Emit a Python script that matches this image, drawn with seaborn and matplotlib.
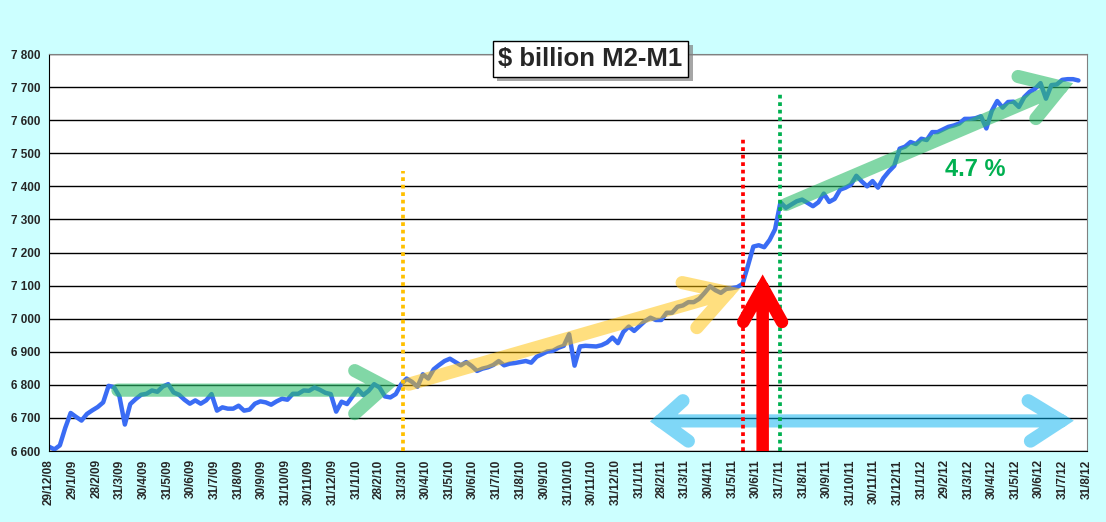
import numpy as np
import pandas as pd
import matplotlib
matplotlib.use("Agg")
import matplotlib.pyplot as plt
import matplotlib.dates as mdates
from matplotlib import patheffects as pe
import seaborn as sns

# weekly M2-M1, $ billion, first week 29/12/08
start = "2008-12-29"
m2_m1 = [6613, 6605, 6617, 6670, 6715, 6703, 6692, 6712, 6723, 6733,
         6747, 6797, 6793, 6765, 6680, 6742, 6757, 6770, 6773, 6783,
         6779, 6795, 6802, 6777, 6770, 6755, 6743, 6753, 6743, 6753,
         6772, 6722, 6732, 6728, 6728, 6737, 6722, 6725, 6743, 6750,
         6747, 6740, 6750, 6758, 6755, 6773, 6773, 6783, 6782, 6792,
         6785, 6776, 6772, 6719, 6749, 6742, 6765, 6787, 6769, 6782,
         6802, 6792, 6765, 6762, 6772, 6802, 6819, 6809, 6794, 6832,
         6819, 6847, 6860, 6872, 6879, 6869, 6859, 6869, 6857, 6842,
         6849, 6853, 6860, 6872, 6859, 6864, 6866, 6869, 6872, 6867,
         6885, 6893, 6901, 6903, 6912, 6918, 6953, 6858, 6916, 6918,
         6917, 6916, 6920, 6928, 6943, 6926, 6960, 6976, 6963, 6978,
         6993, 7003, 6996, 6996, 7018, 7018, 7036, 7040, 7050, 7050,
         7060, 7078, 7098, 7086, 7078, 7090, 7092, 7095, 7105, 7160,
         7218, 7222, 7216, 7238, 7270, 7352, 7335, 7345, 7355, 7360,
         7350, 7340, 7352, 7378, 7353, 7362, 7390, 7396, 7405, 7432,
         7415, 7400, 7416, 7396, 7425, 7445, 7462, 7514, 7520, 7534,
         7528, 7544, 7540, 7564, 7564, 7572, 7580, 7584, 7590, 7604,
         7604, 7606, 7612, 7575, 7628, 7658, 7638, 7655, 7656, 7640,
         7670, 7686, 7695, 7712, 7665, 7706, 7708, 7722, 7724, 7724,
         7720]

tick_labels = ["29/12/08", "29/1/09", "28/2/09", "31/3/09", "30/4/09", "31/5/09",
               "30/6/09", "31/7/09", "31/8/09", "30/9/09", "31/10/09", "30/11/09",
               "31/12/09", "31/1/10", "28/2/10", "31/3/10", "30/4/10", "31/5/10",
               "30/6/10", "31/7/10", "31/8/10", "30/9/10", "31/10/10", "30/11/10",
               "31/12/10", "31/1/11", "28/2/11", "31/3/11", "30/4/11", "31/5/11",
               "30/6/11", "31/7/11", "31/8/11", "30/9/11", "31/10/11", "30/11/11",
               "31/12/11", "31/1/12", "29/2/12", "31/3/12", "30/4/12", "31/5/12",
               "30/6/12", "31/7/12", "31/8/12"]
y_ticks = list(range(6600, 7801, 100))

df = pd.DataFrame({"date": pd.date_range(start, periods=len(m2_m1), freq="7D"),
                   "value": m2_m1})
tick_dates = pd.to_datetime(tick_labels, format="%d/%m/%y")

bg = "#CCFFFF"
line_blue = "#3A6CF4"
green = "#2EBD6B"
yellow = "#FFC000"
sky = "#00B0F0"

sns.set_style("white")
plt.rcParams["font.family"] = ["Liberation Sans", "DejaVu Sans"]

fig = plt.figure(figsize=(11.06, 5.22), dpi=100, facecolor=bg)
ax = fig.add_axes([0.0443, 0.136, 0.9385, 0.7605])
ax.set_facecolor("white")

sns.lineplot(data=df, x="date", y="value", ax=ax, color=line_blue, lw=3.2, zorder=2)

ax.set_xlim(tick_dates[0], tick_dates[-1])
ax.set_ylim(6600, 7800)
ax.set_xticks(tick_dates)
ax.set_xticklabels(tick_labels, rotation=90, fontsize=8.5, fontweight="bold")
ax.set_yticks(y_ticks)
ax.set_yticklabels([f"{v:,}".replace(",", " ") for v in y_ticks],
                   fontsize=8.5, fontweight="bold")
ax.tick_params(axis="both", length=4, width=1, direction="out", color="black", pad=2)
ax.set_xlabel("")
ax.set_ylabel("")
ax.yaxis.grid(True, color="black", lw=1)
ax.xaxis.grid(False)
ax.set_axisbelow(True)
for s in ["top", "right"]:
    ax.spines[s].set_color("#808080")
for s in ["left", "bottom"]:
    ax.spines[s].set_color("black")


def d(s):
    return mdates.date2num(pd.Timestamp(s))


def shape(segments, color, alpha=1.0, lw=9.5, z=3):
    # one path for shaft + head, so alpha is not doubled where they overlap
    xs, ys = [], []
    for seg in segments:
        for dt, v in seg:
            xs.append(d(dt))
            ys.append(v)
        xs.append(np.nan)
        ys.append(np.nan)
    ax.plot(xs, ys, color=color, alpha=alpha, lw=lw, solid_capstyle="round",
            solid_joinstyle="miter", zorder=z)


# flat green arrow 2009
shape([[("2009-03-28", 6784), ("2010-02-22", 6784)],
       [("2010-01-28", 6843), ("2010-03-08", 6795), ("2010-01-28", 6713)]],
      green, alpha=0.6)
# yellow arrow 2010-2011
shape([[("2010-04-08", 6802), ("2011-05-25", 7079)],
       [("2011-03-27", 7109), ("2011-05-25", 7079), ("2011-04-15", 6973)]],
      yellow, alpha=0.5)
# green arrow 2011-2012
shape([[("2011-08-08", 7345), ("2012-07-29", 7700)],
       [("2012-06-03", 7732), ("2012-07-29", 7700), ("2012-06-26", 7605)]],
      green, alpha=0.6)
# light blue double arrow
shape([[("2011-02-27", 6691), ("2012-07-29", 6691)],
       [("2011-03-28", 6752), ("2011-02-27", 6691), ("2011-04-04", 6630)],
       [("2012-06-16", 6752), ("2012-07-29", 6691), ("2012-06-19", 6630)]],
      sky, alpha=0.5)

# dotted markers
ax.plot([d("2010-03-31")] * 2, [6600, 7445], color=yellow, lw=2.7,
        ls=(0, (1, 1)), zorder=4)
ax.plot([d("2011-06-13")] * 2, [6600, 7552], color="#FF0000", lw=2.7,
        ls=(0, (1, 1)), zorder=4)
ax.plot([d("2011-07-31")] * 2, [6600, 7688], color="#00B050", lw=2.7,
        ls=(0, (1, 1)), zorder=4)

# red up arrow
shape([[("2011-07-09", 6560), ("2011-07-09", 7095)],
       [("2011-06-14", 6990), ("2011-07-09", 7095), ("2011-08-03", 6990)]],
      "#FF0000", lw=9, z=5)

ax.text(d("2012-04-09"), 7452, "4.7 %", color="#00B050", fontsize=17,
        fontweight="bold", ha="center", va="center", zorder=6)

title = fig.text(0.534, 0.887, r"\$ billion M2-M1", fontsize=18.5, fontweight="bold",
                 ha="center", va="center", zorder=10,
                 bbox=dict(boxstyle="square,pad=0.22", facecolor="white",
                           edgecolor="black", lw=1))
title.get_bbox_patch().set_path_effects(
    [pe.withSimplePatchShadow(offset=(3, -3), shadow_rgbFace="gray", alpha=0.7)])

fig.savefig("out.png", dpi=100, facecolor=bg)
